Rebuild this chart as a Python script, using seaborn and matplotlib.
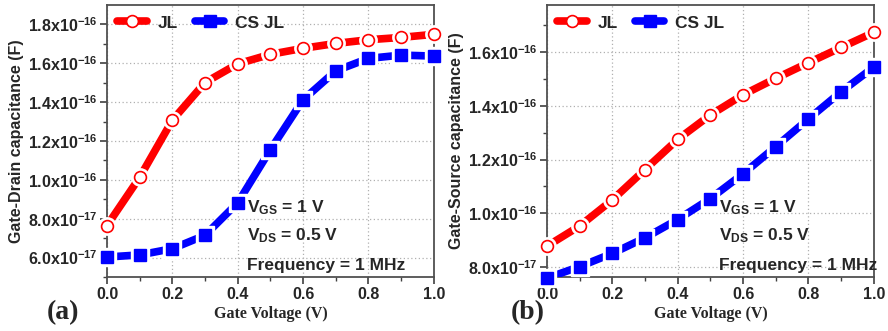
import numpy as np
import pandas as pd
import matplotlib
matplotlib.use("Agg")
import matplotlib.pyplot as plt
import seaborn as sns
from matplotlib.ticker import FuncFormatter, FixedLocator
from matplotlib.lines import Line2D

# gate voltage sweep
vg = [0.0, 0.1, 0.2, 0.3, 0.4, 0.5, 0.6, 0.7, 0.8, 0.9, 1.0]

# (a) gate-drain capacitance (F)
cgd_jl = [7.65e-17, 1.013e-16, 1.307e-16, 1.501e-16, 1.597e-16, 1.646e-16,
          1.677e-16, 1.702e-16, 1.721e-16, 1.733e-16, 1.749e-16]
cgd_csjl = [6.03e-17, 6.14e-17, 6.46e-17, 7.15e-17, 8.82e-17, 1.155e-16,
            1.412e-16, 1.561e-16, 1.625e-16, 1.642e-16, 1.637e-16]

# (b) gate-source capacitance (F)
cgs_jl = [8.78e-17, 9.53e-17, 1.050e-16, 1.163e-16, 1.275e-16, 1.366e-16,
          1.441e-16, 1.502e-16, 1.560e-16, 1.617e-16, 1.673e-16]
cgs_csjl = [7.59e-17, 8.02e-17, 8.51e-17, 9.09e-17, 9.77e-17, 1.055e-16,
            1.147e-16, 1.248e-16, 1.351e-16, 1.452e-16, 1.544e-16]

# tick positions
x_major = [0.0, 0.2, 0.4, 0.6, 0.8, 1.0]
x_minor = [0.1, 0.3, 0.5, 0.7, 0.9]
ya_major = [6e-17, 8e-17, 1.0e-16, 1.2e-16, 1.4e-16, 1.6e-16, 1.8e-16]
ya_minor = [5e-17, 7e-17, 9e-17, 1.1e-16, 1.3e-16, 1.5e-16, 1.7e-16]
yb_major = [8e-17, 1.0e-16, 1.2e-16, 1.4e-16, 1.6e-16]
yb_minor = [9e-17, 1.1e-16, 1.3e-16, 1.5e-16, 1.7e-16]

series_names = ["JL", "CS JL"]
annot_lines = [r"V$_{GS}$ = 1 V", r"V$_{DS}$ = 0.5 V", "Frequency = 1 MHz"]

sns.set_style("white")
plt.rcParams["font.family"] = ["Liberation Sans", "DejaVu Sans"]
plt.rcParams["font.weight"] = "bold"
plt.rcParams["mathtext.fontset"] = "custom"
plt.rcParams["mathtext.rm"] = "Liberation Sans:bold"
plt.rcParams["mathtext.bf"] = "Liberation Sans:bold"
plt.rcParams["mathtext.it"] = "Liberation Sans:bold"
plt.rcParams["mathtext.default"] = "bf"

RED = "#ff0000"
BLUE = "#0000ff"


def sci(v, pos):
    m, e = f"{v:.1e}".split("e")
    return rf"{m}x10$^{{{int(e)}}}$"


def panel(ax, jl, csjl, ylim, ymaj, ymin, ylabel, text_x):
    df = pd.DataFrame({"vg": vg, "JL": jl, "CS JL": csjl})
    for name, col, mk in [("JL", RED, "o"), ("CS JL", BLUE, "s")]:
        sns.lineplot(data=df, x="vg", y=name, ax=ax, color=col, lw=5.5,
                     solid_capstyle="butt", zorder=3)
        # white halo gives the Origin-style gap around the symbols
        ax.plot(df["vg"], df[name], ls="none", marker=mk, ms=12.5,
                mfc="white", mec="white", zorder=4, clip_on=False)
        if mk == "o":
            ax.plot(df["vg"], df[name], ls="none", marker="o", ms=8.5,
                    mfc="white", mec=col, mew=1.2, zorder=5, clip_on=False)
        else:
            ax.plot(df["vg"], df[name], ls="none", marker="s", ms=8,
                    mfc=col, mec=col, zorder=5, clip_on=False)

    ax.set_xlim(0, 1.0)
    ax.set_ylim(*ylim)
    ax.xaxis.set_major_locator(FixedLocator(x_major))
    ax.xaxis.set_minor_locator(FixedLocator(x_minor))
    ax.yaxis.set_major_locator(FixedLocator(ymaj))
    ax.yaxis.set_minor_locator(FixedLocator(ymin))
    ax.yaxis.set_major_formatter(FuncFormatter(sci))
    ax.xaxis.set_major_formatter(FuncFormatter(lambda v, p: f"{v:.1f}"))
    ax.grid(True, which="major", ls=(0, (1, 2)), color="#b0b0b0", lw=0.9)
    ax.tick_params(which="both", direction="out", left=True, bottom=True,
                   labelsize=11.5, color="#404040")
    ax.tick_params(which="major", length=5, width=1.2, pad=2)
    ax.tick_params(which="minor", length=3, width=1.0)
    for s in ax.spines.values():
        s.set_color("#505050")
        s.set_linewidth(1.3)
    ax.set_xlabel("Gate Voltage (V)", fontsize=11.5, fontweight="bold",
                  family="Liberation Serif", labelpad=3)
    ax.set_ylabel(ylabel, fontsize=11.5, fontweight="bold", labelpad=3)

    handles = [
        Line2D([], [], color=RED, lw=5.5, marker="o", ms=8.5, mfc="white",
               mec=RED, mew=1.2),
        Line2D([], [], color=BLUE, lw=5.5, marker="s", ms=8, mfc=BLUE,
               mec=BLUE),
    ]
    ax.legend(handles, series_names, loc="upper left", ncol=2, frameon=False,
              fontsize=12.5, handlelength=1.7, handletextpad=0.6,
              columnspacing=1.0, borderaxespad=0.2,
              bbox_to_anchor=(0.0, 1.0))

    for txt, yf in zip(annot_lines, [0.254, 0.151, 0.044]):
        ax.text(text_x, yf, txt, transform=ax.transAxes, fontsize=12.5,
                fontweight="bold", va="center", ha="left", zorder=6)


fig = plt.figure(figsize=(8.88, 3.31), dpi=100)
ax1 = fig.add_axes([0.1205, 0.163, 0.368, 0.822])
ax2 = fig.add_axes([0.616, 0.163, 0.368, 0.822])

panel(ax1, cgd_jl, cgd_csjl, (5.0e-17, 1.9e-16), ya_major, ya_minor,
      "Gate-Drain capacitance (F)", 0.428)
panel(ax2, cgs_jl, cgs_csjl, (7.63e-17, 1.775e-16), yb_major, yb_minor,
      "Gate-Source capacitance (F)", 0.526)

for letter, xf in [("(a)", 0.071), ("(b)", 0.594)]:
    fig.text(xf, 0.055, letter, fontsize=20, fontweight="bold",
             family="Liberation Serif", ha="center", va="center")

fig.savefig("out.png", dpi=100)
